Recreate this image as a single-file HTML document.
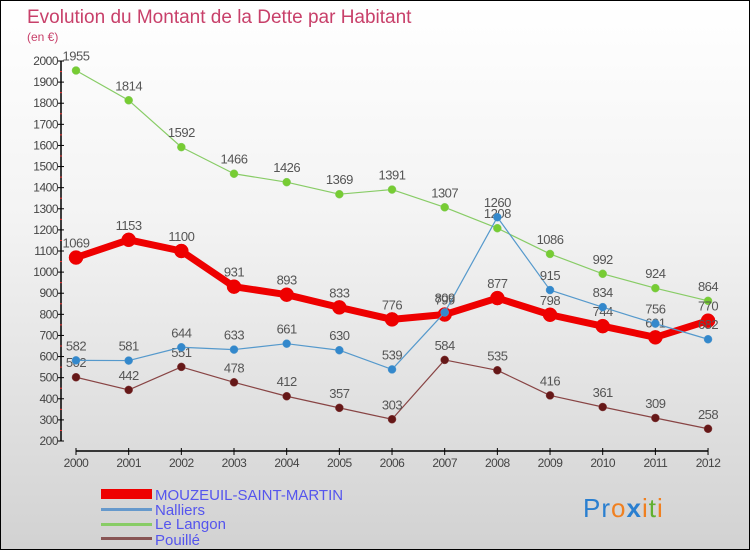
<!DOCTYPE html>
<html><head><meta charset="utf-8"><style>
body{margin:0}
#c{position:relative;width:748px;height:548px;border:1px solid #000;background:linear-gradient(#fff,#f3f3f3 40%,#d2d2d2);font-family:"Liberation Sans",sans-serif;overflow:hidden}
</style></head><body>
<div id="c">
<svg id="s" width="748" height="548" xmlns="http://www.w3.org/2000/svg">
<text x="26" y="22" font-size="19" fill="#c8406a">Evolution du Montant de la Dette par Habitant</text>
<text x="26" y="40" font-size="12" fill="#c8406a">(en €)</text>
<g id="axes"></g><g id="series"></g>
<g>
<rect x="100" y="488" width="51" height="10" fill="#e00"/>
<text x="154" y="499" font-size="15" fill="#5555ee">MOUZEUIL-SAINT-MARTIN</text>
<rect x="100" y="507" width="51" height="3" fill="#6699cc"/>
<text x="154" y="514" font-size="15" fill="#5555ee">Nalliers</text>
<rect x="100" y="522" width="51" height="3" fill="#88cc66"/>
<text x="154" y="528" font-size="15" fill="#5555ee">Le Langon</text>
<rect x="100" y="536" width="51" height="3" fill="#885555"/>
<text x="154" y="544" font-size="15" fill="#5555ee">Pouillé</text>
</g>
<text x="582" y="516" font-size="26" letter-spacing="1"><tspan fill="#2a7fd0">Pr</tspan><tspan fill="#f08020">o</tspan><tspan fill="#2a7fd0" font-weight="bold">x</tspan><tspan fill="#f08020">i</tspan><tspan fill="#60b030">t</tspan><tspan fill="#f08020">i</tspan></text>
</svg></div>
<script>
const years=[2000,2001,2002,2003,2004,2005,2006,2007,2008,2009,2010,2011,2012];
const yTicks=[200,300,400,500,600,700,800,900,1000,1100,1200,1300,1400,1500,1600,1700,1800,1900,2000];
const mouzeuil=[1069,1153,1100,931,893,833,776,799,877,798,744,691,770];
const nalliers=[582,581,644,633,661,630,539,809,1260,915,834,756,682];
const lelangon=[1955,1814,1592,1466,1426,1369,1391,1307,1208,1086,992,924,864];
const pouille=[502,442,551,478,412,357,303,584,535,416,361,309,258];
const NS="http://www.w3.org/2000/svg";
const X=i=>75+i*52.67, Y=v=>440-(v-200)*(380/1800);
function mk(t,a,p){const e=document.createElementNS(NS,t);for(const k in a)e.setAttribute(k,a[k]);p.appendChild(e);return e;}
const ax=document.getElementById('axes');
let l=mk('line',{x1:60,y1:60,x2:60,y2:440,stroke:'#000','stroke-width':1.5},ax);

yTicks.forEach(v=>{
 const t=mk('line',{x1:57,x2:63,y1:Y(v),y2:Y(v),stroke:'#000'},ax);
 
 if(v<2000){const m=mk('line',{x1:59,x2:61,y1:Y(v+50),y2:Y(v+50),stroke:'#e33'},ax);
 }
 const tx=mk('text',{x:57,y:Y(v)+4,'font-size':12,fill:'#444','text-anchor':'end','letter-spacing':'-0.5'},ax);tx.textContent=v;
 
});
l=mk('line',{x1:75,y1:450,x2:707,y2:450,stroke:'#000','stroke-width':1.5},ax);

years.forEach((y,i)=>{
 const t=mk('line',{x1:X(i),x2:X(i),y1:447,y2:454,stroke:'#000'},ax);
 
 const tx=mk('text',{x:X(i),y:466,'font-size':12,fill:'#444','text-anchor':'middle','letter-spacing':'-0.5'},ax);tx.textContent=y;
 
});
const sg=document.getElementById('series');
function draw(vals,name,color,w,r,pc){
 const g=mk('g',{},sg);
 const p=mk('polyline',{points:vals.map((v,i)=>X(i)+','+Y(v)).join(' '),fill:'none',stroke:color,'stroke-width':w,'stroke-linejoin':'round'},g);
 
 vals.forEach((v,i)=>{
  const c=mk('circle',{cx:X(i),cy:Y(v),r:r,fill:pc,stroke:color,'stroke-width':0.5},g);
  
  const t=mk('text',{x:X(i),y:Y(v)-10,'font-size':13,fill:'#555','text-anchor':'middle','letter-spacing':'-0.5'},g);t.textContent=v;
  
 });
}
draw(lelangon,'le-langon','#88cc66',1.2,4,'#77cc33');
draw(pouille,'pouille','#884444',1.2,4,'#661818');
draw(mouzeuil,'mouzeuil','#ee0000',7,7,'#ee0000');
draw(nalliers,'nalliers','#5599cc',1.2,4,'#3388cc');
</script>
</body></html>
